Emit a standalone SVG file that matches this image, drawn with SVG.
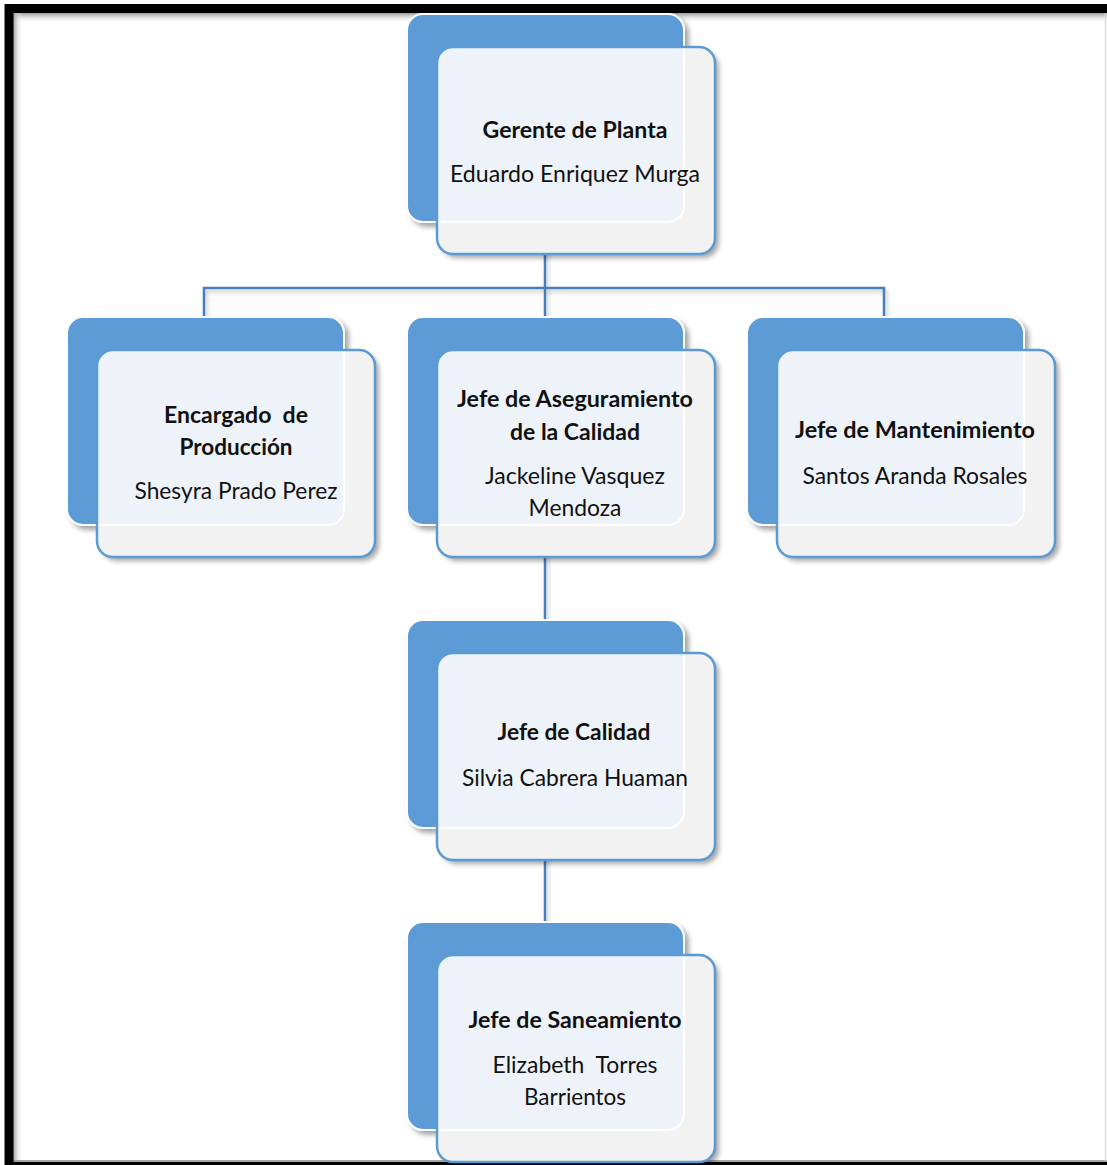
<svg xmlns="http://www.w3.org/2000/svg" xmlns:xlink="http://www.w3.org/1999/xlink" width="1107" height="1165" viewBox="0 0 1107 1165">
  <style>
    .back { fill: #5B9BD5; stroke: #FFFFFF; stroke-width: 2; }
    .front { fill: #F2F2F2; }
    .overlap { fill: #EEF3FA; }
    .edge { fill: none; stroke: #FFFFFF; stroke-width: 2; }
    .frontline { fill: none; stroke: #5B9BD5; stroke-width: 2.5; }
    .conn { fill: none; stroke: #4A7EBB; stroke-width: 2.5; }
    .t { font-family: "Lato", "Open Sans", "Liberation Sans", sans-serif; font-size: 23px; fill: #111111; text-anchor: middle; }
    .b { font-weight: bold; }
  </style>
  <defs>
    <filter id="sh" x="-10%" y="-10%" width="125%" height="125%">
      <feDropShadow dx="4" dy="4" stdDeviation="2.5" flood-color="#000000" flood-opacity="0.35"/>
    </filter>
    <filter id="lsh" x="-5%" y="-50%" width="110%" height="200%">
      <feDropShadow dx="2" dy="3" stdDeviation="2" flood-color="#000000" flood-opacity="0.25"/>
    </filter>
    <linearGradient id="gTop" x1="0" y1="0" x2="0" y2="1">
      <stop offset="0" stop-color="#9A9A9A"/>
      <stop offset="1" stop-color="#FFFFFF" stop-opacity="0"/>
    </linearGradient>
    <linearGradient id="gLeft" x1="0" y1="0" x2="1" y2="0">
      <stop offset="0" stop-color="#9A9A9A"/>
      <stop offset="1" stop-color="#FFFFFF" stop-opacity="0"/>
    </linearGradient>
    <g id="card">
      <rect class="back" x="0" y="0" width="277" height="208" rx="16" filter="url(#sh)"/>
      <rect class="front" x="30" y="33" width="278" height="207" rx="16" filter="url(#sh)"/>
      <path class="overlap" d="M46,33 H277 V192 A16,16 0 0 1 261,208 H30 V49 A16,16 0 0 1 46,33 Z"/>
      <path class="edge" d="M277,33 V192 A16,16 0 0 1 261,208 H30"/>
      <rect class="frontline" x="30" y="33" width="278" height="207" rx="16"/>
    </g>
  </defs>

  <rect x="0" y="0" width="1107" height="1165" fill="#FFFFFF"/>

  <!-- frame -->
  <g id="frame">
    <rect x="13" y="13" width="1094" height="10" fill="url(#gTop)"/>
    <rect x="13" y="13" width="10" height="1149" fill="url(#gLeft)"/>
    <line x1="13" y1="1161" x2="1107" y2="1161" stroke="#8C8C8C" stroke-width="1.5"/>
    <line x1="1105.5" y1="13" x2="1105.5" y2="1161" stroke="#DDDDDD" stroke-width="1.5"/>
    <path d="M9,1166.5 V8.5 H1120" fill="none" stroke="#000000" stroke-width="9"/>
    <line x1="9" y1="1166.5" x2="1120" y2="1166.5" stroke="#000000" stroke-width="9"/>
  </g>

  <!-- connectors -->
  <g id="connectors" filter="url(#lsh)">
    <path class="conn" d="M545,222 V288"/>
    <path class="conn" d="M204,317 V288 H884 V317"/>
    <path class="conn" d="M545,288 V317"/>
    <path class="conn" d="M545,525 V621"/>
    <path class="conn" d="M545,825 V923"/>
  </g>

  <g id="node-gerente">
    <use href="#card" xlink:href="#card" x="407" y="14"/>
    <text class="t b" x="575" y="138" textLength="185" lengthAdjust="spacingAndGlyphs">Gerente de Planta</text>
    <text class="t" x="575" y="182" textLength="250" lengthAdjust="spacingAndGlyphs">Eduardo Enriquez Murga</text>
  </g>

  <g id="node-encargado">
    <use href="#card" xlink:href="#card" x="67" y="317"/>
    <text class="t b" x="236" y="423" textLength="144" lengthAdjust="spacingAndGlyphs" xml:space="preserve">Encargado  de</text>
    <text class="t b" x="236" y="455" textLength="113" lengthAdjust="spacingAndGlyphs">Producción</text>
    <text class="t" x="236" y="499" textLength="203" lengthAdjust="spacingAndGlyphs">Shesyra Prado Perez</text>
  </g>

  <g id="node-aseguramiento">
    <use href="#card" xlink:href="#card" x="407" y="317"/>
    <text class="t b" x="575" y="407" textLength="236" lengthAdjust="spacingAndGlyphs">Jefe de Aseguramiento</text>
    <text class="t b" x="575" y="440" textLength="130" lengthAdjust="spacingAndGlyphs">de la Calidad</text>
    <text class="t" x="575" y="484" textLength="180" lengthAdjust="spacingAndGlyphs">Jackeline Vasquez</text>
    <text class="t" x="575" y="516" textLength="93" lengthAdjust="spacingAndGlyphs">Mendoza</text>
  </g>

  <g id="node-mantenimiento">
    <use href="#card" xlink:href="#card" x="747" y="317"/>
    <text class="t b" x="915" y="438" textLength="240" lengthAdjust="spacingAndGlyphs">Jefe de Mantenimiento</text>
    <text class="t" x="915" y="484" textLength="225" lengthAdjust="spacingAndGlyphs">Santos Aranda Rosales</text>
  </g>

  <g id="node-calidad">
    <use href="#card" xlink:href="#card" x="407" y="620"/>
    <text class="t b" x="574" y="740" textLength="153" lengthAdjust="spacingAndGlyphs">Jefe de Calidad</text>
    <text class="t" x="575" y="786" textLength="226" lengthAdjust="spacingAndGlyphs">Silvia Cabrera Huaman</text>
  </g>

  <g id="node-saneamiento">
    <use href="#card" xlink:href="#card" x="407" y="922"/>
    <text class="t b" x="575" y="1028" textLength="213" lengthAdjust="spacingAndGlyphs">Jefe de Saneamiento</text>
    <text class="t" x="575" y="1073" textLength="165" lengthAdjust="spacingAndGlyphs" xml:space="preserve">Elizabeth  Torres</text>
    <text class="t" x="575" y="1105" textLength="102" lengthAdjust="spacingAndGlyphs">Barrientos</text>
  </g>
</svg>
